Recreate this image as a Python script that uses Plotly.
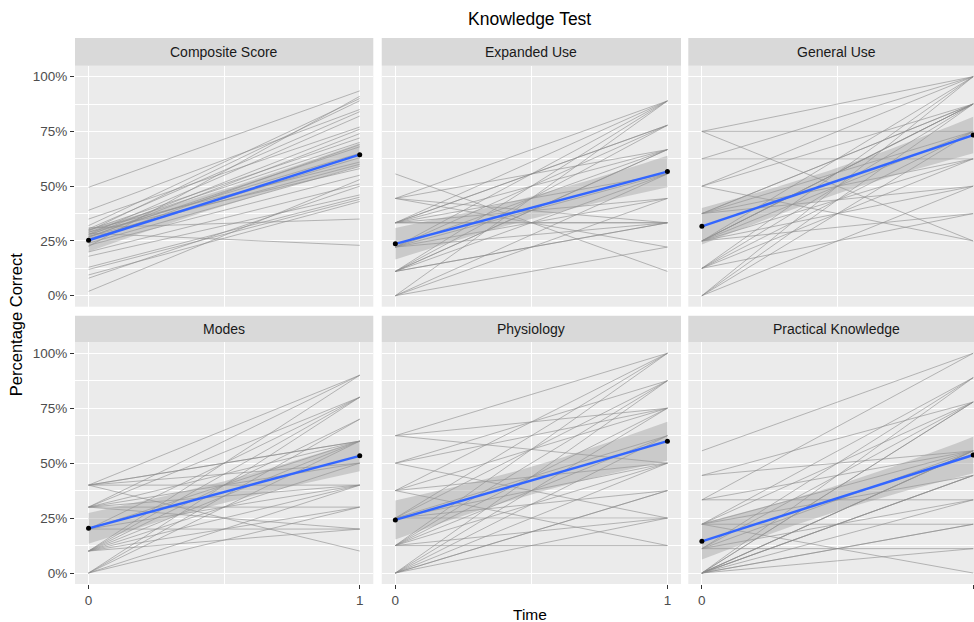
import numpy as np
import plotly.graph_objects as go

# ---------------- data (percent correct) ----------------
panels = ["Composite Score", "Expanded Use", "General Use",
          "Modes", "Physiology", "Practical Knowledge"]

composite_pre = [49.5, 39, 35, 32, 31, 30.5, 30, 30, 29.5, 29, 29, 28.5, 28, 28, 27.5,
                 27, 27, 26.5, 26, 25, 24, 23, 22.5, 20, 18, 13, 12, 9.5, 8, 2]
composite_post = [93.5, 85, 77, 90, 35, 84, 72, 61, 89, 70, 58, 23, 82, 65, 76,
                  68, 60, 74, 63, 69, 59, 55, 91, 51, 46, 45, 44, 43, 50, 53]

expanded_pre = [55.6, 44.4, 44.4, 44.4, 44.4, 33.3, 33.3, 33.3, 33.3, 33.3, 33.3, 33.3, 33.3,
                22.2, 22.2, 22.2, 22.2, 22.2, 22.2, 11.1, 11.1, 11.1, 11.1, 11.1, 11.1, 11.1,
                0, 0, 0, 0]
expanded_post = [11.1, 88.9, 66.7, 33.3, 22.2, 88.9, 77.8, 66.7, 55.6, 33.3, 33.3, 44.4, 77.8,
                 88.9, 66.7, 55.6, 33.3, 44.4, 77.8, 88.9, 66.7, 55.6, 33.3, 33.3, 77.8, 66.7,
                 88.9, 55.6, 44.4, 22.2]

general_pre = [75, 75, 75, 62.5, 62.5, 50, 50, 50, 37.5, 37.5, 37.5, 37.5, 37.5,
               25, 25, 25, 25, 25, 25, 25, 25, 12.5, 12.5, 12.5, 12.5, 12.5, 0, 0, 0, 0]
general_post = [75, 25, 100, 100, 62.5, 25, 87.5, 100, 87.5, 75, 50, 87.5, 62.5,
                100, 87.5, 87.5, 75, 62.5, 50, 37.5, 87.5, 100, 87.5, 75, 37.5, 62.5,
                100, 87.5, 75, 50]

modes_pre = [40, 40, 40, 40, 40, 40, 30, 30, 30, 30, 30, 30, 30, 20, 20, 20, 20,
             10, 10, 10, 10, 10, 10, 10, 10, 0, 0, 0, 0, 0]
modes_post = [90, 60, 60, 50, 10, 40, 80, 60, 50, 40, 30, 20, 90, 60, 40, 20, 80,
              90, 80, 70, 60, 50, 40, 30, 20, 80, 70, 60, 40, 30]

physiology_pre = [62.5, 62.5, 62.5, 50, 50, 50, 37.5, 37.5, 37.5, 37.5,
                  25, 25, 25, 25, 25, 25, 12.5, 12.5, 12.5, 12.5, 12.5, 12.5, 12.5,
                  0, 0, 0, 0, 0, 0, 0]
physiology_post = [100, 75, 50, 87.5, 75, 25, 100, 75, 12.5, 50,
                   100, 87.5, 62.5, 50, 37.5, 25, 100, 87.5, 75, 62.5, 50, 25, 12.5,
                   87.5, 75, 62.5, 50, 37.5, 37.5, 25]

practical_pre = [55.6, 44.4, 44.4, 33.3, 33.3, 33.3, 22.2, 22.2, 22.2, 22.2, 22.2, 22.2,
                 11.1, 11.1, 11.1, 11.1, 11.1, 0, 0, 0, 0, 0, 0, 0, 0, 0, 0, 0, 0, 0]
practical_post = [100, 77.8, 55.6, 100, 55.6, 33.3, 88.9, 55.6, 44.4, 22.2, 0, 77.8,
                  88.9, 77.8, 55.6, 33.3, 11.1, 88.9, 77.8, 77.8, 55.6, 55.6, 55.6,
                  44.4, 44.4, 44.4, 33.3, 22.2, 22.2, 11.1]

times = [0, 1]
x_ticks = [0, 1]
y_ticks = [0, 25, 50, 75, 100]

data = {
    "Composite Score": (composite_pre, composite_post),
    "Expanded Use": (expanded_pre, expanded_post),
    "General Use": (general_pre, general_post),
    "Modes": (modes_pre, modes_post),
    "Physiology": (physiology_pre, physiology_post),
    "Practical Knowledge": (practical_pre, practical_post),
}

# ---------------- layout geometry ----------------
W, H = 974, 622
ML, MR, MT, MB = 75, 0, 38, 38
x_domains = [[0.0, 0.3318], [0.3412, 0.6741], [0.6822, 1.0]]
y_panels = [[0.5079, 0.9493], [0.0, 0.4427]]
y_strips = [[0.9493, 1.0], [0.4427, 0.4914]]
x_ranges = [[-0.05, 1.05], [-0.05, 1.05], [-0.05, 1.003]]

FONT = "Liberation Sans, Arial, sans-serif"
T_CRIT = 2.0017  # t(0.975, df=58)

fig = go.Figure()
layout = dict(
    template="none",
    width=W, height=H,
    margin=dict(l=ML, r=MR, t=MT, b=MB, autoexpand=False),
    paper_bgcolor="white", plot_bgcolor="#EBEBEB",
    showlegend=False,
    font=dict(family=FONT, color="#1A1A1A"),
    shapes=[], annotations=[],
)

for i, name in enumerate(panels):
    r, c = divmod(i, 3)
    k = i + 1
    xa = "x" if k == 1 else f"x{k}"
    ya = "y" if k == 1 else f"y{k}"
    pre, post = data[name]
    pre = np.array(pre, float)
    post = np.array(post, float)

    # individual subject lines
    lx, ly = [], []
    for a, b in zip(pre, post):
        lx += [times[0], times[1], None]
        ly += [a, b, None]
    fig.add_trace(go.Scatter(x=lx, y=ly, mode="lines", xaxis=xa, yaxis=ya,
                             line=dict(color="rgba(140,140,140,0.75)", width=0.8),
                             hoverinfo="skip"))

    # linear fit with 95% CI
    xs = np.concatenate([np.zeros(len(pre)), np.ones(len(post))])
    ys = np.concatenate([pre, post])
    n = len(xs)
    slope, intercept = np.polyfit(xs, ys, 1)
    resid = ys - (intercept + slope * xs)
    s = np.sqrt(np.sum(resid ** 2) / (n - 2))
    xbar = xs.mean()
    sxx = np.sum((xs - xbar) ** 2)
    xg = np.linspace(0, 1, 80)
    yg = intercept + slope * xg
    se = s * np.sqrt(1.0 / n + (xg - xbar) ** 2 / sxx)
    lo, hi = yg - T_CRIT * se, yg + T_CRIT * se
    fig.add_trace(go.Scatter(x=np.concatenate([xg, xg[::-1]]),
                             y=np.concatenate([hi, lo[::-1]]),
                             mode="lines", fill="toself", xaxis=xa, yaxis=ya,
                             fillcolor="rgba(153,153,153,0.4)",
                             line=dict(width=0, color="rgba(0,0,0,0)"),
                             hoverinfo="skip"))
    fig.add_trace(go.Scatter(x=xg, y=yg, mode="lines", xaxis=xa, yaxis=ya,
                             line=dict(color="#3366FF", width=2.4), hoverinfo="skip"))
    fig.add_trace(go.Scatter(x=times, y=[pre.mean(), post.mean()], mode="markers",
                             xaxis=xa, yaxis=ya,
                             marker=dict(color="black", size=5), hoverinfo="skip"))

    layout["xaxis" if k == 1 else f"xaxis{k}"] = dict(
        domain=x_domains[c], anchor=ya, range=x_ranges[c], automargin=False,
        tickvals=x_ticks, ticktext=[str(t) for t in x_ticks],
        showticklabels=(r == 1), ticks="outside" if r == 1 else "",
        ticklen=4, tickwidth=1, tickcolor="#333333",
        tickfont=dict(size=13.5, color="#4D4D4D", family=FONT),
        showgrid=True, gridcolor="white", gridwidth=1.1,
        minor=dict(tickvals=[0.5], showgrid=True, gridcolor="white", gridwidth=0.55, ticks=""),
        zeroline=False, showline=False, fixedrange=True,
    )
    layout["yaxis" if k == 1 else f"yaxis{k}"] = dict(
        domain=y_panels[r], anchor=xa, range=[-5, 105], automargin=False,
        tickvals=y_ticks, ticktext=[f"{v}%" for v in y_ticks],
        showticklabels=(c == 0), ticks="outside" if c == 0 else "",
        ticklen=4, tickwidth=1, tickcolor="#333333",
        tickfont=dict(size=13.5, color="#4D4D4D", family=FONT),
        showgrid=True, gridcolor="white", gridwidth=1.1,
        minor=dict(tickvals=[12.5, 37.5, 62.5, 87.5], showgrid=True,
                   gridcolor="white", gridwidth=0.55, ticks=""),
        zeroline=False, showline=False, fixedrange=True,
    )

    # strip
    layout["shapes"].append(dict(type="rect", xref="paper", yref="paper",
                                 x0=x_domains[c][0], x1=x_domains[c][1],
                                 y0=y_strips[r][0], y1=y_strips[r][1],
                                 fillcolor="#D9D9D9", line=dict(width=0), layer="below"))
    strip_cx = [0.1659, 0.5076, 0.8476][c]
    layout["annotations"].append(dict(
        text=name, xref="paper", yref="paper", x=strip_cx,
        y=(y_strips[r][0] + y_strips[r][1]) / 2, showarrow=False,
        xanchor="center", yanchor="middle",
        font=dict(size=14, color="#1A1A1A", family=FONT)))

layout["annotations"] += [
    dict(text="Knowledge Test", xref="paper", yref="paper", x=0.506, y=1.0348,
         showarrow=False, xanchor="center", yanchor="middle",
         font=dict(size=17.5, color="black", family=FONT)),
    dict(text="Time", xref="paper", yref="paper", x=0.506, y=-0.0555,
         showarrow=False, xanchor="center", yanchor="middle",
         font=dict(size=15.5, color="black", family=FONT)),
    dict(text="Percentage Correct", xref="paper", yref="paper", x=-0.0656, y=0.474,
         showarrow=False, xanchor="center", yanchor="middle", textangle=-90,
         font=dict(size=16.5, color="black", family=FONT)),
]

fig.update_layout(**layout)
fig.write_html("out.html", config={"displayModeBar": False},
               post_script="document.body.style.margin='0px';document.body.style.overflow='hidden';")
